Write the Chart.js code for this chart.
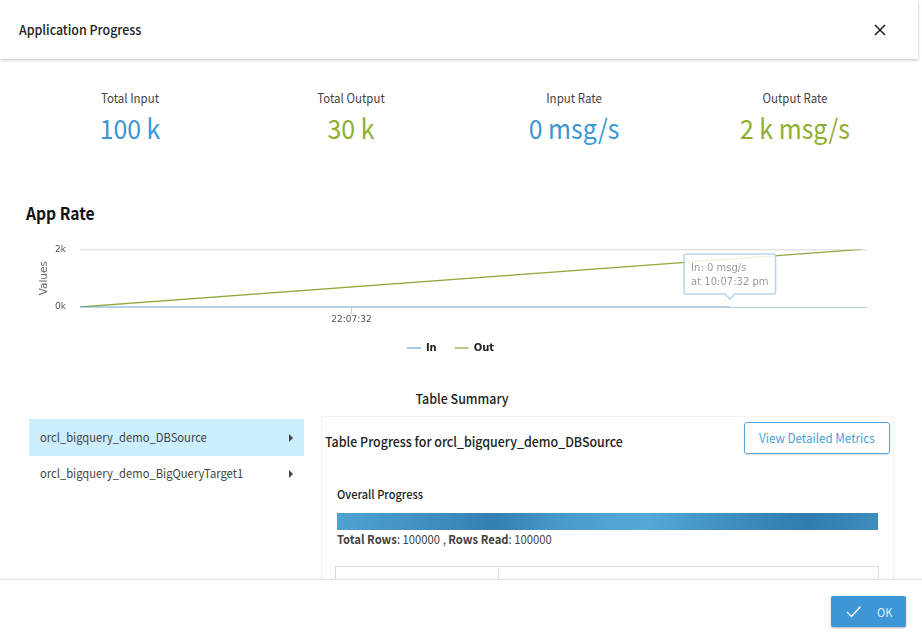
<!DOCTYPE html>
<html>
<head>
<meta charset="utf-8">
<script src="https://cdn.jsdelivr.net/npm/chart.js@4"></script>
<style>
    html, body { margin: 0; padding: 0; width: 922px; height: 639px; overflow: hidden; background: #fff; }
    body { font-family: "Noto Sans CJK SC", "Noto Sans", sans-serif; color: #222; position: relative; }
    .abs { position: absolute; white-space: nowrap; line-height: 1; }
    .sq { transform: scaleX(.92); transform-origin: left center; }
    .center { transform: translateX(-50%) scaleX(.92); transform-origin: center; }
    .header { position: absolute; left: 0; top: 0; width: 918px; height: 59px; background: #fff; box-shadow: 0 1px 3px rgba(0,0,0,.25); }
    .footer { position: absolute; left: 0; top: 579px; width: 922px; height: 60px; background: #fff; border-top: 1px solid #e6e6e6; box-shadow: 0 -1px 2px rgba(0,0,0,.05); }
    .panel { position: absolute; left: 321px; top: 416px; width: 571px; height: 170px; border: 1px solid #f2f2f2; border-bottom: 0; }
    .row-active { position: absolute; left: 29px; top: 419px; width: 275px; height: 37px; background: #cdeefd; }
    .arrow { position: absolute; width: 0; height: 0; border-left: 4px solid #444; border-top: 4px solid transparent; border-bottom: 4px solid transparent; }
    .detail-btn { position: absolute; left: 744px; top: 422px; width: 144px; height: 30px; border: 1.5px solid #5aa5d6; border-radius: 3px; color: #4a9fd8; font-size: 12.7px; line-height: 30px; text-align: center; box-shadow: 0 1px 2px rgba(0,0,0,.15); }
    .detail-btn span { display: inline-block; transform: scaleX(.92); }
    .bar { position: absolute; left: 337px; top: 513px; width: 541px; height: 17px; background: linear-gradient(100deg, #4fa3d3 0%, #3a86b8 24%, #327fb0 29%, #4a9bcc 42%, #55a9d8 57%, #3f8fc0 72%, #2f7cad 87%, #3f8dbd 100%); }
    .tbl { position: absolute; left: 335px; top: 566px; width: 544px; height: 13px; border: 1px solid #dcdcdc; border-bottom: 0; box-sizing: border-box; }
    .tbl-split { position: absolute; left: 498px; top: 566px; width: 1px; height: 13px; background: #dcdcdc; }
    .ok-btn { position: absolute; left: 831px; top: 596px; width: 75px; height: 31px; background: #3d97d6; border-radius: 2px; box-shadow: 0 1px 2px rgba(0,0,0,.3); color: #dff0fb; font-size: 12px; }
    #chartBox { position: absolute; left: 20px; top: 230px; width: 884px; height: 133px; }
</style>
</head>
<body>
<div class="header"></div>
<div class="abs sq" style="left:19px;top:23px;font-size:13.5px;font-weight:500;color:#222">Application Progress</div>
<svg class="abs" style="left:874px;top:24px" width="12" height="12"><path d="M1 1L11 11M11 1L1 11" stroke="#222" stroke-width="1.6"/></svg>

<div id="kpis"></div>

<div class="abs sq" style="left:26px;top:204px;font-size:17px;font-weight:700;color:#111">App Rate</div>
<div id="chartBox"><canvas id="rateChart"></canvas></div>

<div class="abs center" style="left:462px;top:392px;font-size:13.5px;font-weight:500;color:#222">Table Summary</div>

<div class="row-active"></div>
<div class="abs sq" style="left:40px;top:431px;font-size:12.2px;color:#444">orcl_bigquery_demo_DBSource</div>
<div class="arrow" style="left:289px;top:434px"></div>
<div class="abs sq" style="left:40px;top:467px;font-size:12.2px;color:#444">orcl_bigquery_demo_BigQueryTarget1</div>
<div class="arrow" style="left:289px;top:470px"></div>

<div class="panel"></div>
<div class="abs sq" style="left:325px;top:435px;font-size:13.5px;font-weight:500;color:#222">Table Progress for orcl_bigquery_demo_DBSource</div>
<div class="detail-btn"><span>View Detailed Metrics</span></div>
<div class="abs sq" style="left:337px;top:488px;font-size:12px;font-weight:500;color:#222">Overall Progress</div>
<div class="bar"></div>
<div class="abs sq" style="left:337px;top:533px;font-size:12.25px;color:#444"><b style="font-weight:700">Total Rows</b>: 100000 , <b style="font-weight:700">Rows Read</b>: 100000</div>
<div class="tbl"></div>
<div class="tbl-split"></div>

<div class="footer"></div>
<div class="ok-btn">
    <svg class="abs" style="left:15px;top:9px" width="16" height="13"><path d="M1 7L5.5 11.5L14.5 1.5" fill="none" stroke="#fff" stroke-width="1.4"/></svg>
    <span class="abs sq" style="left:46px;top:10px">OK</span>
</div>

<script>
const kpiLabels = ['Total Input', 'Total Output', 'Input Rate', 'Output Rate'];
const kpiValues = ['100 k', '30 k', '0 msg/s', '2 k msg/s'];
const kpiCenters = [130, 351, 574, 795];
const kpiColors = ['#3c96d2', '#8fae2f', '#3c96d2', '#8fae2f'];

// x values are seconds after 22:07:00
const inTimes = [31.3, 32.975];
const inValues = [0, 0];
const outTimes = [31.3, 33.315];
const outValues = [0, 2000];
const xTickValues = [32];
const xTickLabels = ['22:07:32'];
const yTickValues = [0, 2000];
const hoverTime = '10:07:32 pm';

const kpiBox = document.getElementById('kpis');
kpiLabels.forEach((label, i) => {
    kpiBox.insertAdjacentHTML('beforeend',
        `<div class="abs center" style="left:${kpiCenters[i]}px;top:92px;font-size:12.5px;color:#444">${label}</div>` +
        `<div class="abs center" style="left:${kpiCenters[i]}px;top:114px;font-size:27px;color:${kpiColors[i]}">${kpiValues[i]}</div>`);
});

Chart.Tooltip.positioners.aboveIn = function (items) {
    if (!items.length) return false;
    return { x: items[0].element.x, y: items[0].element.y - 8 };
};

const chartFont = '"DejaVu Sans", sans-serif';
const chart = new Chart(document.getElementById('rateChart').getContext('2d'), {
    type: 'line',
    data: {
        datasets: [{
            label: 'In',
            data: inTimes.map((t, i) => ({ x: t, y: inValues[i] })),
            borderColor: '#6fa8d6',
            borderWidth: 1.25,
            pointRadius: 0,
            pointHoverRadius: 0,
            pointStyle: 'line'
        }, {
            label: 'Out',
            data: outTimes.map((t, i) => ({ x: t, y: outValues[i] })),
            borderColor: '#8fa83a',
            borderWidth: 1.25,
            pointRadius: 0,
            pointHoverRadius: 0,
            pointStyle: 'line'
        }]
    },
    options: {
        responsive: true,
        maintainAspectRatio: false,
        animation: false,
        events: [],
        layout: { padding: { top: 9, left: 15, right: 38 } },
        scales: {
            x: {
                type: 'linear',
                min: 31.3,
                max: 33.326,
                afterBuildTicks: axis => { axis.ticks = xTickValues.map(v => ({ value: v })); },
                afterFit: axis => { axis.height = 18; },
                ticks: {
                    autoSkip: false,
                    maxRotation: 0,
                    padding: 0,
                    color: '#555',
                    font: { family: chartFont, size: 9 },
                    callback: v => xTickLabels[xTickValues.indexOf(v)]
                },
                grid: { drawOnChartArea: false, drawTicks: true, tickLength: 7, tickColor: '#c0d0e0' },
                border: { color: '#b8cde0', width: 1 }
            },
            y: {
                min: 0,
                max: 2000,
                afterBuildTicks: axis => { axis.ticks = yTickValues.map(v => ({ value: v })); },
                afterFit: axis => { axis.width = 45; },
                title: { display: true, text: 'Values', color: '#666', font: { family: chartFont, size: 10.5 }, padding: { top: 3, bottom: 0 } },
                ticks: {
                    padding: 14,
                    color: '#555',
                    font: { family: chartFont, size: 9 },
                    callback: v => (v / 1000) + 'k'
                },
                grid: {
                    drawTicks: false,
                    lineWidth: 1.5,
                    color: ctx => ctx.tick.value ? '#e4e4e4' : 'transparent'
                },
                border: { display: false }
            }
        },
        plugins: {
            legend: {
                position: 'bottom',
                labels: {
                    usePointStyle: true,
                    pointStyle: 'line',
                    pointStyleWidth: 14,
                    color: '#222',
                    padding: 18,
                    font: { family: chartFont, size: 10, weight: 'bold' }
                }
            },
            tooltip: {
                enabled: true,
                position: 'aboveIn',
                yAlign: 'bottom',
                xAlign: 'center',
                displayColors: false,
                backgroundColor: 'rgba(255,255,255,0.85)',
                borderColor: '#b5d5ea',
                borderWidth: 1.5,
                cornerRadius: 2,
                caretSize: 5,
                caretPadding: 0,
                padding: { left: 7, right: 7, top: 8, bottom: 6 },
                bodyColor: '#999',
                bodySpacing: 2,
                bodyFont: { family: chartFont, size: 10 },
                callbacks: {
                    title: () => '',
                    label: item => [`${item.dataset.label}: ${item.parsed.y} msg/s`, `at ${hoverTime}`]
                }
            }
        }
    }
});

chart.tooltip.setActiveElements([{ datasetIndex: 0, index: 1 }], { x: 0, y: 0 });
chart.update();
</script>
</body>
</html>
